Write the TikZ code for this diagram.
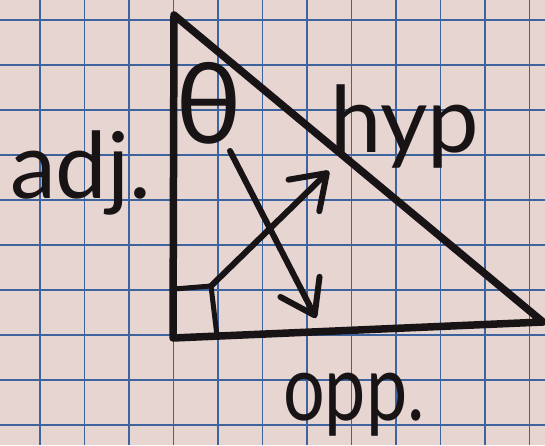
\documentclass[tikz,border=0pt]{standalone}
\usepackage{fontspec}
\setmainfont{Lato}
\usetikzlibrary{arrows.meta}
\definecolor{paper}{RGB}{231,213,210}
\definecolor{gridblue}{RGB}{62,100,160}
\definecolor{ink}{RGB}{24,20,22}
\tikzstyle{side} = [draw=ink, line width=7.5pt, line cap=round, line join=round]
\tikzstyle{gridline} = [draw=gridblue, line width=1.5pt]
\tikzstyle{arrowline} = [draw=ink, line width=6pt, line cap=round, line join=round,
    -{Straight Barb[length=32pt, width=44pt, round]}]
\tikzstyle{hand} = [text=ink, inner sep=0pt, font=\fontsize{92}{92}\selectfont, anchor=base west]

\begin{document}
\begin{tikzpicture}[x=1pt, y=-1pt]
        % Paper and grid
        \useasboundingbox[fill=paper] (0,0) rectangle (545,445);
        \foreach \gx in {-4.5,40,...,530} \draw[gridline] (\gx,0) -- (\gx,445);
        \foreach \gy in {20,65,...,425} \draw[gridline] (0,\gy) -- (545,\gy);
        % Triangle corners
        \coordinate (top) at (174,15);
        \coordinate (corner) at (173,338);
        \coordinate (far) at (543,322);
        \draw[side] (top) -- (corner) -- (far) -- cycle;
        % Right angle mark
        \coordinate (markbase) at (217,336);
        \coordinate (markcorner) at (211,286);
        \coordinate (markleft) at (174,289);
        \draw[side, line width=5pt] (markbase) -- (markcorner) -- (markleft);
        % Arrows
        \coordinate (downstart) at (230,151);
        \coordinate (downend) at (316,318);
        \coordinate (upend) at (329,171);
        \path [arrowline] (downstart) -- (downend);
        \path [arrowline] (markcorner) -- (upend);
        % Labels
        \node [hand] (adj) at (10,198) {adj.};
        \node [hand] (hyp) at (330,152) {hyp};
        \node [hand, xscale=0.8] (opp) at (283,420) {opp.};
        \node [hand, anchor=center, font=\fontsize{112}{112}\selectfont] (theta) at (209,103) {θ};
\end{tikzpicture}
\end{document}
